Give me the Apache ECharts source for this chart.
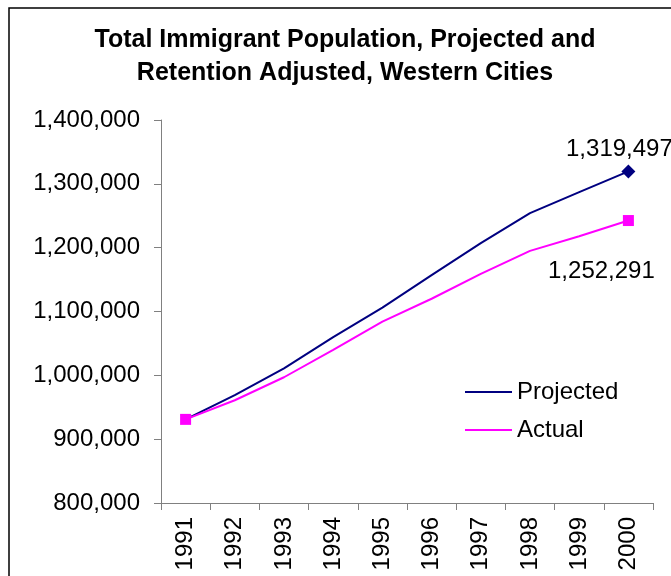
<!DOCTYPE html>
<html>
<head>
<meta charset="utf-8">
<script src="https://cdn.jsdelivr.net/npm/echarts@6/dist/echarts.min.js"></script>
<style>
  html, body { margin: 0; padding: 0; background: #fff; }
  #chart { width: 671px; height: 576px; }
</style>
</head>
<body>
<div id="chart"></div>
<script>
const years = ["1991", "1992", "1993", "1994", "1995", "1996", "1997", "1998", "1999", "2000"];
const projected = [931000, 969000, 1011000, 1060000, 1106000, 1157000, 1207000, 1254000, 1287000, 1319497];
const actual = [931000, 961000, 997000, 1040000, 1084000, 1120000, 1159000, 1195000, 1218000, 1242500];
const projectedLabel = "1,319,497";
const actualLabel = "1,252,291";

const FONT = "'Liberation Sans', Arial, sans-serif";
const numberFormatter = new Intl.NumberFormat("en-US");

const chartElement = document.getElementById("chart");
const chartInstance = echarts.init(chartElement);

function endPoints(values, label, firstSize, lastSize) {
  // marker only on first and last point, label only on the last
  return values.map((v, i) => {
    if (i === values.length - 1) {
      return { value: v, symbolSize: lastSize, labelText: label };
    }
    return { value: v, symbolSize: i === 0 ? firstSize : 0 };
  });
}

const option = {
  animation: false,
  title: {
    text: "Total Immigrant Population, Projected and\nRetention Adjusted, Western Cities",
    left: 345,
    top: 24,
    padding: 0,
    textAlign: "center",
    textStyle: {
      fontFamily: FONT,
      fontSize: 25,
      fontWeight: "bold",
      color: "#000",
      lineHeight: 33,
    },
  },
  legend: {
    left: 465,
    top: 380,
    padding: 0,
    orient: "vertical",
    itemWidth: 47,
    itemHeight: 2,
    itemGap: 14,
    icon: "rect",
    textStyle: { fontFamily: FONT, fontSize: 24, color: "#000" },
    data: [
      { name: "Projected", itemStyle: { color: "#000080" } },
      { name: "Actual", itemStyle: { color: "#FF00FF" } },
    ],
  },
  graphic: [
    {
      type: "rect",
      shape: { x: 9, y: 8, width: 700, height: 620 },
      style: { fill: "none", stroke: "#000", lineWidth: 1.5 },
      z: 100,
    },
  ],
  grid: { left: 161, right: 18, top: 120, bottom: 73, containLabel: false },
  xAxis: {
    type: "category",
    data: years,
    boundaryGap: true,
    axisLine: { lineStyle: { color: "#808080", width: 1 } },
    axisTick: { show: true, length: 7, inside: false, lineStyle: { color: "#808080" } },
    axisLabel: {
      rotate: 90,
      interval: 0,
      margin: 14,
      fontFamily: FONT,
      fontSize: 24,
      color: "#000",
    },
    splitLine: { show: false },
  },
  yAxis: {
    type: "value",
    min: 800000,
    max: 1400000,
    interval: 100000,
    axisLine: { show: true, lineStyle: { color: "#808080", width: 1 } },
    axisTick: { show: true, length: 7, lineStyle: { color: "#808080" } },
    axisLabel: {
      margin: 21,
      fontFamily: FONT,
      fontSize: 24,
      color: "#000",
      formatter: (v) => numberFormatter.format(v),
    },
    splitLine: { show: false },
  },
  series: [
    {
      name: "Projected",
      type: "line",
      data: endPoints(projected, projectedLabel, 9, 14),
      symbol: "diamond",
      color: "#000080",
      lineStyle: { color: "#000080", width: 2 },
      itemStyle: { color: "#000080" },
      label: {
        show: true,
        position: "top",
        distance: 3,
        offset: [-9, 0],
        fontFamily: FONT,
        fontSize: 24,
        color: "#000",
        formatter: (p) => p.data.labelText || "",
      },
      z: 3,
    },
    {
      name: "Actual",
      type: "line",
      data: endPoints(actual, actualLabel, 11, 11),
      symbol: "rect",
      color: "#FF00FF",
      lineStyle: { color: "#FF00FF", width: 2 },
      itemStyle: { color: "#FF00FF" },
      label: {
        show: true,
        position: "bottom",
        distance: 33,
        offset: [-27, 0],
        fontFamily: FONT,
        fontSize: 24,
        color: "#000",
        formatter: (p) => p.data.labelText || "",
      },
      z: 4,
    },
  ],
};

chartInstance.setOption(option);
</script>
</body>
</html>
